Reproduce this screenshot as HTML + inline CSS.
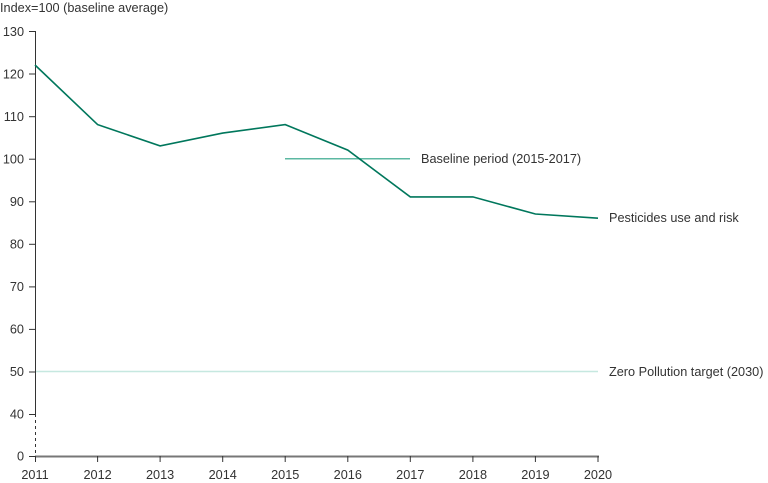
<!DOCTYPE html>
<html><head><meta charset="utf-8"><style>
html,body{margin:0;padding:0;background:#fff;}
svg{display:block;font-family:"Liberation Sans",sans-serif;font-size:12.7px;fill:#333;}
</style></head><body>
<svg width="768" height="483" viewBox="0 0 768 483">
<text x="0" y="12">Index=100 (baseline average)</text>
<g stroke="#333" stroke-width="1">
<line x1="35.5" y1="31" x2="35.5" y2="414"/>
<line x1="35.5" y1="414" x2="35.5" y2="456" stroke-dasharray="3,3"/>
<line x1="35" y1="456.5" x2="599" y2="456.5" stroke="#777" stroke-width="2"/>
<g>
<line x1="29" y1="31.5" x2="35" y2="31.5"/><line x1="29" y1="74" x2="35" y2="74"/><line x1="29" y1="116.7" x2="35" y2="116.7"/><line x1="29" y1="159.2" x2="35" y2="159.2"/><line x1="29" y1="201.8" x2="35" y2="201.8"/><line x1="29" y1="244.3" x2="35" y2="244.3"/><line x1="29" y1="286.9" x2="35" y2="286.9"/><line x1="29" y1="329.4" x2="35" y2="329.4"/><line x1="29" y1="372" x2="35" y2="372"/><line x1="29" y1="414.5" x2="35" y2="414.5"/><line x1="29" y1="456.5" x2="35" y2="456.5"/>
</g>
<g>
<line x1="35.5" y1="456" x2="35.5" y2="462"/><line x1="97.6" y1="456" x2="97.6" y2="462"/><line x1="160.1" y1="456" x2="160.1" y2="462"/><line x1="222.7" y1="456" x2="222.7" y2="462"/><line x1="285.2" y1="456" x2="285.2" y2="462"/><line x1="347.8" y1="456" x2="347.8" y2="462"/><line x1="410.3" y1="456" x2="410.3" y2="462"/><line x1="472.9" y1="456" x2="472.9" y2="462"/><line x1="535.4" y1="456" x2="535.4" y2="462"/><line x1="598" y1="456" x2="598" y2="462"/>
</g>
</g>
<g text-anchor="end">
<text x="24" y="36">130</text><text x="24" y="78.5">120</text><text x="24" y="121">110</text><text x="24" y="163.5">100</text><text x="24" y="206">90</text><text x="24" y="248.5">80</text><text x="24" y="291">70</text><text x="24" y="333.5">60</text><text x="24" y="376">50</text><text x="24" y="418.5">40</text><text x="24" y="460.5">0</text>
</g>
<g text-anchor="middle">
<text x="35" y="479">2011</text><text x="97.6" y="479">2012</text><text x="160.1" y="479">2013</text><text x="222.7" y="479">2014</text><text x="285.2" y="479">2015</text><text x="347.8" y="479">2016</text><text x="410.3" y="479">2017</text><text x="472.9" y="479">2018</text><text x="535.4" y="479">2019</text><text x="598" y="479">2020</text>
</g>
<line x1="36" y1="371.5" x2="598" y2="371.5" stroke="#c6e8e0" stroke-width="1.5"/>
<line x1="285" y1="158.7" x2="410" y2="158.7" stroke="#5cb8a2" stroke-width="1.5"/>
<polyline fill="none" stroke="#00775c" stroke-width="1.6" points="35,65 97.6,124.6 160.1,145.9 222.7,133.1 285.2,124.6 347.8,150.1 410.3,196.9 472.9,196.9 535.4,214 598,218.2"/>
<text x="421" y="163">Baseline period (2015-2017)</text>
<text x="609" y="222">Pesticides use and risk</text>
<text x="609" y="376">Zero Pollution target (2030)</text>
</svg>
</body></html>
